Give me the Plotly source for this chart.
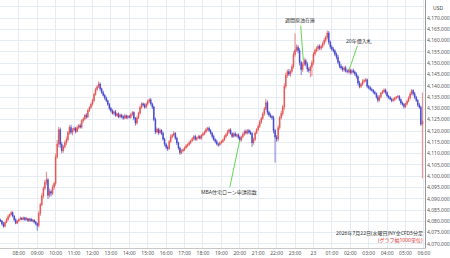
import pandas as pd
import plotly.graph_objects as go

first_open = 4080.6
closes = [
    4080.2,4078.9,4077.8,4079.5,4080.8,4082.1,4083.0,4083.9,4082.4,4080.7,4079.2,4080.1,
    4080.8,4081.5,4080.9,4081.6,4080.7,4081.2,4080.3,4081.0,4080.1,4080.6,4079.7,4079.0,
    4078.2,4083.5,4087.4,4091.2,4094.6,4097.3,4098.4,4091.5,4093.2,4092.4,4095.1,4096.8,
    4108.5,4114.2,4120.6,4114.1,4111.3,4113.0,4114.8,4116.2,4119.3,4121.6,4119.4,4120.5,
    4121.2,4119.8,4121.5,4122.4,4121.7,4124.6,4125.3,4127.0,4126.2,4129.1,4130.4,4131.8,
    4133.5,4136.2,4138.4,4139.6,4140.8,4138.7,4137.1,4135.8,4134.6,4133.4,4131.8,4130.1,
    4129.0,4127.8,4128.5,4126.9,4127.6,4126.2,4127.1,4126.4,4125.7,4126.8,4125.9,4126.5,
    4126.1,4127.3,4128.2,4125.6,4123.5,4125.8,4127.9,4130.4,4132.1,4131.6,4130.5,4131.9,
    4133.2,4133.8,4132.0,4130.6,4125.1,4119.6,4120.8,4119.2,4120.3,4119.0,4116.4,4114.1,
    4112.8,4112.2,4115.3,4117.4,4118.1,4119.0,4116.8,4114.7,4112.5,4110.4,4111.2,4111.7,
    4112.6,4113.5,4114.0,4114.8,4115.7,4116.6,4117.6,4116.3,4117.0,4117.6,4116.8,4118.1,
    4118.8,4119.6,4120.7,4121.3,4120.2,4119.1,4117.6,4116.2,4115.4,4114.3,4113.9,4114.8,
    4115.3,4116.1,4117.5,4118.4,4119.7,4120.5,4118.9,4117.6,4118.8,4117.9,4118.3,4117.2,
    4116.0,4117.4,4118.6,4119.8,4119.1,4120.2,4119.4,4118.9,4114.8,4116.3,4119.1,4120.6,
    4122.1,4124.0,4125.6,4127.5,4129.8,4132.6,4128.3,4127.1,4126.4,4125.9,4120.2,4117.3,
    4116.4,4121.5,4125.9,4127.8,4130.6,4139.8,4144.7,4146.3,4145.2,4146.4,4148.6,4153.9,
    4155.9,4157.1,4155.6,4150.3,4147.2,4149.5,4151.2,4149.6,4147.4,4146.8,4148.3,4150.2,
    4154.1,4155.7,4156.4,4157.5,4156.6,4157.4,4158.6,4160.2,4161.5,4163.4,4159.3,4157.2,
    4156.2,4155.5,4154.0,4152.7,4150.4,4148.7,4147.9,4147.1,4148.0,4146.6,4146.3,4146.9,
    4145.8,4146.7,4146.1,4145.2,4144.1,4141.3,4139.7,4140.6,4141.9,4142.3,4142.7,4139.8,
    4139.2,4138.4,4138.0,4137.2,4136.6,4135.1,4133.6,4135.2,4136.8,4137.4,4138.2,4137.0,
    4135.5,4134.8,4134.1,4133.5,4133.9,4134.6,4135.0,4135.3,4133.9,4132.4,4131.8,4130.8,
    4131.9,4133.2,4134.6,4136.4,4137.9,4136.5,4134.9,4133.5,4131.6,4130.5,4123.0,4124.4,
]
upper_wick = [
    0.6,0.4,0.8,0.5,0.7,0.9,0.4,0.6,0.5,0.3,0.7,0.5,
    0.4,0.6,0.3,0.5,0.4,0.7,0.3,0.5,0.6,0.4,0.3,0.5,
    0.6,1.0,0.8,1.2,0.9,1.1,3.6,0.8,1.3,0.9,1.0,0.7,
    1.5,1.8,1.2,0.9,1.1,0.8,1.0,1.3,0.7,0.9,1.2,0.8,
    0.8,0.6,0.9,0.7,1.0,0.6,0.8,0.5,0.9,0.7,0.6,0.8,
    0.9,0.7,0.8,0.6,1.2,0.7,0.5,0.8,0.6,0.7,0.5,0.6,
    0.5,0.7,0.6,0.8,0.5,0.6,0.7,0.5,0.6,0.8,0.5,0.6,
    0.6,0.8,0.7,0.5,0.6,0.9,0.7,0.8,0.6,0.5,0.7,0.6,
    0.7,0.6,0.8,0.5,0.6,0.9,0.7,0.6,0.8,0.5,0.7,0.6,
    0.6,0.8,0.7,1.2,0.6,0.9,0.5,0.7,0.6,0.5,0.8,0.6,
    0.5,0.7,0.6,0.8,0.5,0.7,0.6,0.8,0.5,0.7,0.6,0.5,
    0.7,0.6,0.8,0.5,0.7,0.6,0.5,0.7,0.6,0.8,0.5,0.6,
    0.6,0.5,0.7,0.6,0.8,0.6,0.7,0.5,0.6,0.8,0.5,0.7,
    0.7,0.6,0.8,0.7,0.9,0.6,0.7,0.8,0.6,0.9,0.7,0.8,
    0.8,0.9,0.7,1.0,0.8,1.6,0.9,0.7,0.8,0.6,0.9,0.8,
    0.9,1.1,0.8,1.2,1.0,1.3,1.1,0.9,1.2,0.8,1.0,1.3,
    7.3,1.2,0.9,1.1,0.8,1.0,1.2,0.8,1.0,0.9,0.8,1.1,
    0.9,0.8,1.0,0.7,0.9,0.8,1.0,0.9,0.8,1.1,0.9,0.8,
    0.8,0.9,0.7,0.8,1.0,0.7,0.9,0.8,0.7,0.9,0.8,0.7,
    0.7,0.8,0.9,0.7,0.8,0.6,0.9,0.7,1.0,0.8,0.7,0.6,
    0.6,0.7,0.8,0.6,0.7,0.5,0.8,0.7,0.6,0.8,0.7,0.6,
    0.6,0.5,0.7,0.6,0.8,0.6,0.5,0.7,0.6,0.5,0.7,0.6,
    0.6,0.7,0.8,0.9,0.7,0.6,0.8,0.7,0.6,0.8,0.7,12.6,
]
lower_wick = [
    0.5,0.8,0.6,0.4,0.3,0.6,0.5,0.4,0.7,0.6,0.5,0.4,
    0.5,0.3,0.6,0.4,0.5,0.3,0.6,0.4,0.3,0.5,0.6,0.8,
    2.4,0.9,1.1,0.7,1.0,0.8,1.2,1.6,0.9,1.4,0.8,1.1,
    1.0,0.8,1.4,1.6,1.2,0.9,0.7,1.1,0.8,1.0,0.9,1.3,
    0.7,0.9,0.5,0.8,0.6,0.7,0.9,0.6,0.8,0.5,0.7,0.6,
    0.6,0.8,0.5,0.7,0.6,0.9,0.7,0.5,0.8,0.6,0.7,0.9,
    0.7,0.5,0.8,0.6,0.7,0.5,0.6,0.8,0.7,0.5,0.6,0.7,
    0.5,0.7,0.6,0.9,1.1,0.6,0.5,0.7,0.6,0.8,0.6,0.5,
    0.6,0.8,0.7,0.9,0.8,1.0,0.7,0.9,0.6,0.8,0.7,0.9,
    0.9,1.1,0.6,0.5,0.8,0.6,0.7,0.9,0.8,1.0,0.6,0.7,
    0.6,0.5,0.8,0.6,0.7,0.5,0.8,0.6,0.7,0.5,0.6,0.7,
    0.5,0.7,0.6,0.8,0.6,0.7,0.9,0.6,0.8,0.7,0.9,0.6,
    0.7,0.6,0.5,0.7,0.6,0.8,0.6,0.7,0.5,0.6,0.7,0.8,
    0.9,0.7,0.6,0.8,0.7,0.6,0.8,0.7,1.8,0.9,0.7,0.6,
    0.7,0.8,0.9,0.7,0.8,0.6,1.1,0.8,0.7,0.9,1.3,11.3,
    1.2,0.9,1.0,0.8,1.1,1.4,1.0,1.2,0.9,1.1,0.8,1.0,
    1.0,0.9,1.2,1.4,2.4,1.0,0.8,1.1,1.3,1.0,3.0,4.0,
    1.0,0.8,0.9,1.1,0.8,0.9,0.7,0.8,1.0,0.9,1.1,0.9,
    0.9,0.7,0.8,1.0,0.8,0.9,0.7,0.8,0.9,0.7,0.8,0.9,
    0.8,0.7,0.6,0.8,0.9,1.0,0.8,0.7,0.6,0.8,0.7,0.9,
    0.7,0.6,0.5,0.7,0.6,0.8,1.0,0.6,0.7,0.5,0.6,0.8,
    0.7,0.6,0.5,0.8,0.6,0.7,0.6,0.5,0.7,0.8,0.6,0.9,
    0.7,0.6,0.5,0.7,0.6,0.8,0.7,0.6,0.9,0.7,0.8,24.0,
]

hour_ticks = ["07:00","08:00","09:00","10:00","11:00","12:00","13:00","14:00",
              "15:00","16:00","17:00","18:00","19:00","20:00","21:00","22:00",
              "23:00","23","01:00","02:00","03:00","04:00","05:00","06:00"]
price_ticks = [4070,4075,4080,4085,4090,4095,4100,4105,4110,4115,4120,4125,
               4130,4135,4140,4145,4150,4155,4160,4165,4170,4175]

title_line1 = "2026年7月22日(水曜日)NY金CFD5分足"
title_line2 = "(グラフ幅1000単位)"
events = [("MBA住宅ローン申請指数", "2026-07-22 20:00", 4116.0, -11, 52),
          ("週間原油在庫", "2026-07-22 23:27", 4151.2, -3, -40),
          ("20年債入札", "2026-07-23 01:56", 4147.0, 10, -29)]

times = pd.date_range("2026-07-22 07:00", periods=len(closes), freq="5min")
opens = [first_open] + closes[:-1]
highs = [max(o, c) + u for o, c, u in zip(opens, closes, upper_wick)]
lows = [min(o, c) - l for o, c, l in zip(opens, closes, lower_wick)]

RED = "#e45252"
BLUE = "#4444cc"
RED_FILL = "#e03c3c"
BLUE_FILL = "#3434c4"

fig = go.Figure(go.Candlestick(
    x=times, open=opens, high=highs, low=lows, close=closes,
    increasing=dict(line=dict(color=RED, width=0.7), fillcolor=RED_FILL),
    decreasing=dict(line=dict(color=BLUE, width=0.7), fillcolor=BLUE_FILL),
    whiskerwidth=0, hoverinfo="skip", showlegend=False,
))

tick_times = pd.date_range("2026-07-22 07:00", periods=len(hour_ticks), freq="60min")
grid = "#e6ecf3"
font = "Noto Sans, Noto Sans CJK JP, sans-serif"

fig.update_layout(
    width=450, height=258,
    margin=dict(l=0, r=23, t=0, b=10),
    paper_bgcolor="white", plot_bgcolor="white",
    font=dict(family=font, size=5, color="#444"),
    xaxis=dict(
        type="date", rangeslider=dict(visible=False),
        range=["2026-07-22 06:58:42", "2026-07-23 06:03:30"],
        tickvals=tick_times, ticktext=hour_ticks,
        showgrid=True, gridcolor=grid, gridwidth=1,
        showline=True, linecolor="#c8c8c8", linewidth=1,
        ticks="", tickfont=dict(size=5, color="#555"), zeroline=False,
    ),
    yaxis=dict(
        side="right", range=[4068.2, 4178.0],
        tickvals=price_ticks,
        ticktext=["" if v == 4175 else f"{v:,.3f}" for v in price_ticks],
        showgrid=True, gridcolor=grid, gridwidth=1,
        showline=True, linecolor="#999999", linewidth=1,
        ticks="", tickfont=dict(size=5, color="#555"), zeroline=False,
    ),
)

fig.add_annotation(text="USD", xref="paper", yref="paper", x=1.0, y=1.0,
                   xanchor="left", yanchor="top", xshift=6, yshift=-3,
                   showarrow=False, font=dict(size=5, color="#444"))
fig.add_annotation(text=title_line1, xref="paper", yref="paper", x=1.0, y=0.0,
                   xanchor="right", yanchor="bottom", yshift=9,
                   showarrow=False, font=dict(size=5, color="#333"))
fig.add_annotation(text=title_line2, xref="paper", yref="paper", x=1.0, y=0.0,
                   xanchor="right", yanchor="bottom", yshift=2,
                   showarrow=False, font=dict(size=5, color="#e03030"))

for label, t, p, dx, dy in events:
    fig.add_annotation(text=label, x=t, y=p, ax=dx, ay=dy,
                       showarrow=True, arrowhead=0, arrowwidth=1,
                       arrowcolor="#66d455", standoff=0,
                       font=dict(size=5, color="#333"))

fig.write_html("out.html")
